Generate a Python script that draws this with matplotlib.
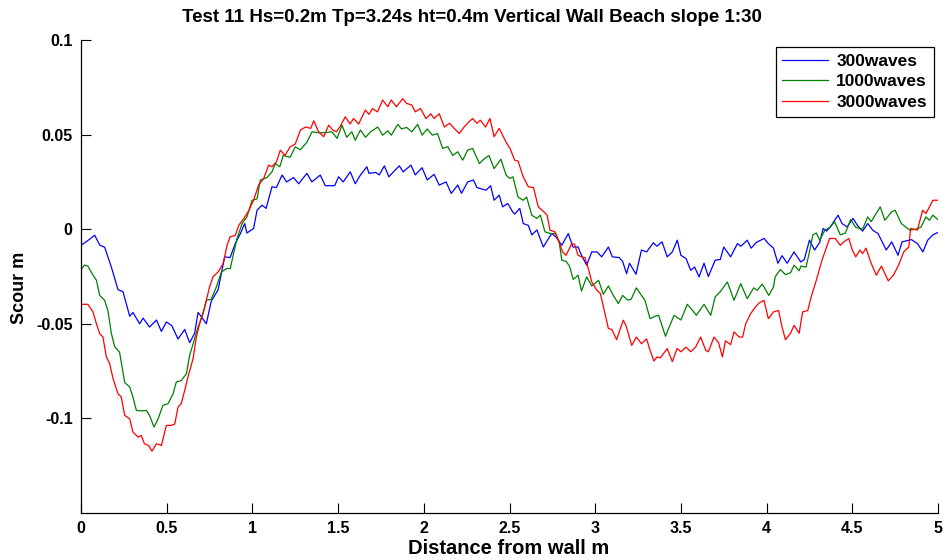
import matplotlib
matplotlib.use("Agg")
import matplotlib.pyplot as plt

title = "Test 11 Hs=0.2m Tp=3.24s ht=0.4m Vertical Wall Beach slope 1:30"
series_names = ["300waves", "1000waves", "3000waves"]

x_300 = [0.0, 0.04, 0.08, 0.11, 0.138, 0.177, 0.216, 0.245, 0.284, 0.303, 0.342, 0.362, 0.40, 0.44,
         0.469, 0.498, 0.53, 0.566, 0.605, 0.634, 0.663, 0.683, 0.70, 0.731, 0.76, 0.80, 0.838,
         0.87, 0.90, 0.93, 0.955, 0.968, 1.007, 1.027, 1.056, 1.08, 1.114, 1.14, 1.173, 1.20, 1.24,
         1.27, 1.318, 1.347, 1.396, 1.425, 1.48, 1.503, 1.53, 1.571, 1.60, 1.63, 1.668, 1.68, 1.72,
         1.74, 1.77, 1.796, 1.857, 1.88, 1.925, 1.95, 1.99, 2.02, 2.06, 2.09, 2.13, 2.16, 2.198,
         2.22, 2.256, 2.29, 2.31, 2.363, 2.39, 2.41, 2.44, 2.46, 2.49, 2.518, 2.53, 2.56, 2.58,
         2.61, 2.63, 2.66, 2.697, 2.746, 2.77, 2.805, 2.843, 2.87, 2.90, 2.92, 2.95, 2.98, 3.01,
         3.038, 3.077, 3.10, 3.14, 3.16, 3.183, 3.20, 3.238, 3.27, 3.30, 3.339, 3.36, 3.39, 3.42,
         3.45, 3.479, 3.50, 3.53, 3.557, 3.58, 3.606, 3.635, 3.66, 3.70, 3.73, 3.75, 3.79, 3.83,
         3.85, 3.887, 3.91, 3.94, 3.985, 4.01, 4.04, 4.066, 4.09, 4.12, 4.16, 4.199, 4.22, 4.25,
         4.28, 4.31, 4.33, 4.35, 4.37, 4.417, 4.44, 4.47, 4.504, 4.53, 4.56, 4.59, 4.62, 4.65,
         4.698, 4.73, 4.767, 4.79, 4.845, 4.88, 4.912, 4.94, 4.97, 5.0]
y_300 = [-0.0085, -0.006, -0.0032, -0.0085, -0.0095, -0.020, -0.032, -0.033, -0.046, -0.044,
         -0.050, -0.047, -0.0517, -0.048, -0.054, -0.049, -0.051, -0.058, -0.053, -0.060, -0.055,
         -0.044, -0.046, -0.050, -0.038, -0.032, -0.0146, -0.0150, -0.0076, -0.0023, 0.003, -0.002,
         0.0004, 0.010, 0.0127, 0.011, 0.0224, 0.022, 0.0286, 0.025, 0.0273, 0.024, 0.0295, 0.025,
         0.0286, 0.023, 0.023, 0.0277, 0.025, 0.0303, 0.024, 0.0286, 0.033, 0.0295, 0.030, 0.0287,
         0.0335, 0.0277, 0.0335, 0.0303, 0.0339, 0.0287, 0.0325, 0.026, 0.029, 0.0233, 0.025,
         0.0189, 0.0233, 0.019, 0.025, 0.026, 0.022, 0.0206, 0.023, 0.0153, 0.018, 0.0118, 0.0136,
         0.0092, 0.008, 0.011, 0.003, 0.002, -0.003, -0.0004, -0.0094, -0.0023, -0.004, -0.0085,
         -0.0023, -0.0094, -0.0094, -0.0138, -0.019, -0.012, -0.012, -0.0146, -0.0094, -0.0146,
         -0.015, -0.017, -0.0235, -0.018, -0.0238, -0.011, -0.012, -0.0072, -0.009, -0.0067,
         -0.0146, -0.012, -0.0058, -0.0138, -0.0155, -0.0217, -0.020, -0.0252, -0.018, -0.025,
         -0.0164, -0.016, -0.0094, -0.0146, -0.0076, -0.009, -0.0058, -0.010, -0.007, -0.0049,
         -0.0076, -0.010, -0.018, -0.014, -0.018, -0.012, -0.0173, -0.016, -0.0058, -0.011, -0.007,
         0.0004, -0.001, 0.001, 0.0074, 0.003, 0.0012, 0.0057, 0.002, -0.001, 0.003, -0.0006,
         -0.0023, -0.011, -0.0067, -0.0138, -0.0067, -0.0055, -0.0076, -0.012, -0.0058, -0.003,
         -0.0017]

x_1000 = [0.0, 0.02, 0.04, 0.07, 0.09, 0.109, 0.138, 0.157, 0.177, 0.196, 0.225, 0.255, 0.284,
          0.303, 0.323, 0.352, 0.381, 0.40, 0.426, 0.45, 0.478, 0.508, 0.537, 0.556, 0.585, 0.615,
          0.634, 0.654, 0.683, 0.712, 0.731, 0.76, 0.79, 0.819, 0.85, 0.871, 0.89, 0.91, 0.94,
          0.968, 0.998, 1.027, 1.046, 1.085, 1.114, 1.134, 1.16, 1.18, 1.22, 1.25, 1.28, 1.318,
          1.348, 1.386, 1.425, 1.464, 1.494, 1.523, 1.55, 1.58, 1.60, 1.63, 1.66, 1.69, 1.731,
          1.76, 1.79, 1.81, 1.848, 1.87, 1.90, 1.93, 1.964, 1.99, 2.02, 2.05, 2.08, 2.11, 2.14,
          2.169, 2.198, 2.227, 2.256, 2.285, 2.324, 2.35, 2.38, 2.41, 2.45, 2.48, 2.503, 2.52,
          2.55, 2.58, 2.60, 2.63, 2.66, 2.68, 2.707, 2.74, 2.77, 2.79, 2.805, 2.83, 2.85, 2.872,
          2.90, 2.92, 2.95, 2.98, 3.02, 3.047, 3.077, 3.106, 3.135, 3.16, 3.19, 3.21, 3.24, 3.27,
          3.29, 3.32, 3.35, 3.37, 3.41, 3.44, 3.46, 3.50, 3.537, 3.56, 3.59, 3.635, 3.674, 3.70,
          3.73, 3.771, 3.81, 3.849, 3.887, 3.925, 3.945, 3.975, 4.013, 4.04, 4.05, 4.08, 4.11,
          4.14, 4.16, 4.19, 4.20, 4.23, 4.25, 4.27, 4.29, 4.31, 4.34, 4.37, 4.397, 4.43, 4.46,
          4.49, 4.52, 4.56, 4.59, 4.61, 4.663, 4.69, 4.73, 4.75, 4.786, 4.835, 4.87, 4.90, 4.93,
          4.95, 4.97, 5.0]
y_1000 = [-0.0213, -0.019, -0.0195, -0.0243, -0.027, -0.035, -0.0376, -0.043, -0.055, -0.062,
          -0.065, -0.081, -0.0834, -0.0887, -0.0958, -0.096, -0.0958, -0.0984, -0.1046, -0.1002,
          -0.0931, -0.0922, -0.087, -0.0808, -0.080, -0.0764, -0.0667, -0.0605, -0.0517, -0.0446,
          -0.0376, -0.037, -0.0305, -0.0226, -0.0208, -0.0208, -0.0129, -0.005, 0.003, 0.0065,
          0.0153, 0.016, 0.026, 0.0273, 0.0303, 0.0347, 0.033, 0.039, 0.038, 0.0435, 0.042, 0.046,
          0.0515, 0.051, 0.051, 0.0515, 0.048, 0.055, 0.0486, 0.0515, 0.047, 0.0524, 0.0486,
          0.0515, 0.054, 0.0497, 0.052, 0.0497, 0.0554, 0.053, 0.0538, 0.0515, 0.0554, 0.0497,
          0.053, 0.0497, 0.0506, 0.0427, 0.0436, 0.039, 0.0409, 0.0365, 0.0418, 0.0427, 0.0347,
          0.037, 0.039, 0.032, 0.037, 0.0286, 0.0268, 0.0277, 0.017, 0.0153, 0.017, 0.0074,
          0.0057, 0.0074, -0.0014, -0.0023, -0.0023, -0.0067, -0.0164, -0.017, -0.0195, -0.0266,
          -0.0243, -0.0327, -0.0252, -0.030, -0.027, -0.0344, -0.030, -0.035, -0.0393, -0.035,
          -0.0375, -0.037, -0.031, -0.035, -0.0375, -0.0473, -0.046, -0.0455, -0.0566, -0.050,
          -0.0455, -0.048, -0.0397, -0.042, -0.0455, -0.0397, -0.0455, -0.0358, -0.033, -0.0279,
          -0.0376, -0.0288, -0.0367, -0.031, -0.0323, -0.029, -0.035, -0.0306, -0.0252, -0.0213,
          -0.024, -0.023, -0.019, -0.022, -0.0195, -0.020, -0.012, -0.003, -0.002, -0.0058,
          -0.0005, 0.001, 0.0039, -0.003, -0.002, 0.0051, 0.001, 0.0, 0.0065, 0.004, 0.0118,
          0.0047, 0.0092, 0.010, 0.003, -0.0005, 0.0, 0.001, 0.0065, 0.0047, 0.0074, 0.005]

x_3000 = [0.0, 0.04, 0.07, 0.09, 0.109, 0.128, 0.148, 0.167, 0.187, 0.216, 0.235, 0.255, 0.284,
          0.303, 0.333, 0.352, 0.37, 0.394, 0.414, 0.44, 0.469, 0.498, 0.527, 0.547, 0.566, 0.585,
          0.605, 0.624, 0.654, 0.673, 0.692, 0.722, 0.75, 0.77, 0.80, 0.83, 0.852, 0.87, 0.90,
          0.92, 0.95, 0.98, 1.007, 1.036, 1.066, 1.095, 1.114, 1.14, 1.163, 1.19, 1.22, 1.25,
          1.28, 1.31, 1.34, 1.358, 1.386, 1.416, 1.445, 1.47, 1.49, 1.51, 1.542, 1.57, 1.59, 1.62,
          1.659, 1.68, 1.70, 1.73, 1.76, 1.79, 1.81, 1.84, 1.877, 1.90, 1.93, 1.95, 1.98, 2.013,
          2.04, 2.06, 2.09, 2.12, 2.15, 2.17, 2.207, 2.235, 2.264, 2.285, 2.31, 2.33, 2.36, 2.386,
          2.41, 2.44, 2.48, 2.503, 2.53, 2.55, 2.58, 2.61, 2.64, 2.668, 2.70, 2.72, 2.736, 2.765,
          2.785, 2.81, 2.83, 2.863, 2.88, 2.90, 2.92, 2.94, 2.96, 2.98, 3.01, 3.03, 3.057, 3.077,
          3.097, 3.125, 3.145, 3.164, 3.18, 3.213, 3.24, 3.27, 3.30, 3.32, 3.343, 3.36, 3.38,
          3.42, 3.45, 3.478, 3.50, 3.53, 3.557, 3.586, 3.615, 3.645, 3.66, 3.693, 3.72, 3.742,
          3.76, 3.79, 3.81, 3.84, 3.86, 3.878, 3.907, 3.936, 3.956, 3.985, 4.01, 4.04, 4.07, 4.09,
          4.11, 4.14, 4.16, 4.19, 4.21, 4.24, 4.26, 4.29, 4.32, 4.35, 4.368, 4.40, 4.43, 4.45,
          4.48, 4.50, 4.52, 4.545, 4.56, 4.58, 4.61, 4.64, 4.67, 4.71, 4.74, 4.77, 4.80, 4.83,
          4.84, 4.86, 4.88, 4.91, 4.93, 4.95, 4.97, 5.0]
y_3000 = [-0.0397, -0.0397, -0.0437, -0.050, -0.0552, -0.057, -0.0675, -0.071, -0.079, -0.087,
          -0.0887, -0.0984, -0.1002, -0.1072, -0.1099, -0.109, -0.1134, -0.1143, -0.1173, -0.1134,
          -0.1143, -0.1037, -0.1037, -0.103, -0.094, -0.0922, -0.0852, -0.0781, -0.0684, -0.057,
          -0.050, -0.0411, -0.0305, -0.0252, -0.0226, -0.018, -0.0085, -0.004, -0.0033, 0.002,
          0.0057, 0.010, 0.0153, 0.0233, 0.0268, 0.0339, 0.033, 0.0356, 0.0418, 0.039, 0.0435,
          0.045, 0.0524, 0.054, 0.0533, 0.0573, 0.0515, 0.0489, 0.055, 0.0524, 0.0515, 0.054,
          0.0594, 0.0556, 0.0585, 0.0556, 0.063, 0.0607, 0.0638, 0.062, 0.0683, 0.0647, 0.0683,
          0.0647, 0.069, 0.0665, 0.0656, 0.062, 0.0638, 0.0585, 0.061, 0.0585, 0.061, 0.054, 0.056,
          0.054, 0.0506, 0.054, 0.0568, 0.0585, 0.056, 0.0576, 0.054, 0.0585, 0.0489, 0.0533,
          0.046, 0.0427, 0.0365, 0.036, 0.0277, 0.0224, 0.022, 0.0118, 0.0092, 0.0074, -0.0005,
          -0.0014, -0.0058, -0.012, -0.0138, -0.0076, -0.008, -0.0138, -0.0146, -0.015, -0.0208,
          -0.0279, -0.0323, -0.034, -0.0446, -0.0525, -0.053, -0.0584, -0.053, -0.0481, -0.051,
          -0.0614, -0.057, -0.0605, -0.058, -0.064, -0.0697, -0.0675, -0.068, -0.0631, -0.070,
          -0.063, -0.0648, -0.0623, -0.0648, -0.0623, -0.057, -0.064, -0.0648, -0.057, -0.060,
          -0.0675, -0.059, -0.061, -0.0543, -0.057, -0.057, -0.050, -0.0446, -0.041, -0.039,
          -0.0376, -0.0473, -0.0437, -0.043, -0.0517, -0.0584, -0.055, -0.0508, -0.055, -0.0437,
          -0.043, -0.0358, -0.027, -0.0173, -0.0094, -0.0049, -0.0049, -0.0085, -0.0067, -0.0049,
          -0.011, -0.0146, -0.011, -0.0129, -0.010, -0.018, -0.0243, -0.0195, -0.0273, -0.0243,
          -0.019, -0.012, -0.0094, 0.0004, 0.0, -0.0005, 0.010, 0.0083, 0.0118, 0.0153, 0.0153]

x_ticks = [0, 0.5, 1, 1.5, 2, 2.5, 3, 3.5, 4, 4.5, 5]
x_tick_labels = ["0", "0.5", "1", "1.5", "2", "2.5", "3", "3.5", "4", "4.5", "5"]
y_ticks = [-0.1, -0.05, 0, 0.05, 0.1]
y_tick_labels = ["-0.1", "-0.05", "0", "0.05", "0.1"]

plt.rcParams['font.family'] = ['Liberation Sans', 'DejaVu Sans']

W, H = 943, 560
fig = plt.figure(figsize=(W / 100, H / 100), dpi=100)
ax = fig.add_axes([81 / W, 1 - 513 / H, (938 - 81) / W, (513 - 40) / H])

ax.plot(x_300, y_300, color=(0, 0, 1), lw=0.9, label=series_names[0])
ax.plot(x_1000, y_1000, color=(0, 0.5, 0), lw=0.9, label=series_names[1])
ax.plot(x_3000, y_3000, color=(1, 0, 0), lw=0.9, label=series_names[2])

ax.set_xlim(0, 5)
ax.set_ylim(-0.15, 0.1)
ax.set_xticks(x_ticks)
ax.set_xticklabels(x_tick_labels, fontsize=11.5, fontweight='bold')
ax.set_yticks(y_ticks)
ax.set_yticklabels(y_tick_labels, fontsize=11.5, fontweight='bold')
ax.tick_params(direction='in', length=7, width=0.8, pad=6)
for s in ['top', 'right']:
    ax.spines[s].set_visible(False)
for s in ['left', 'bottom']:
    ax.spines[s].set_linewidth(0.9)

fig.text(472 / W, 1 - 18 / H, title, fontsize=13.5, fontweight='bold',
         ha='center', va='center')
fig.text(509 / W, 1 - 548 / H, "Distance from wall m", fontsize=14.5, fontweight='bold',
         ha='center', va='center')
fig.text(19 / W, 1 - 288 / H, "Scour m", fontsize=13, fontweight='bold',
         ha='center', va='center', rotation=90)

leg = ax.legend(loc='upper right', bbox_to_anchor=(934 / W, 1 - 47 / H),
                bbox_transform=fig.transFigure, fancybox=False, framealpha=1,
                edgecolor='black', prop={'weight': 'bold', 'size': 12.5}, handlelength=2.6,
                borderpad=0.4, labelspacing=0.3, handletextpad=0.5, borderaxespad=0)
leg.get_frame().set_linewidth(0.9)

fig.savefig("out.png", dpi=100)
